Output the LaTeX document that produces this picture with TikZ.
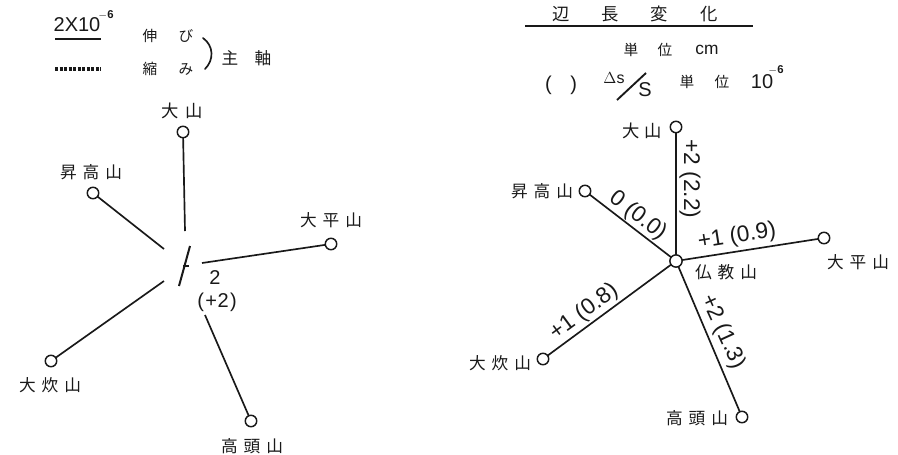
\documentclass[tikz,border=0pt]{standalone}
\usepackage{fontspec}
\setmainfont{Liberation Sans}
\newfontfamily\cjk{Noto Sans CJK JP}
\newcommand\gp{\hspace{4.5pt}}
\tikzset{
  every node/.style={inner sep=0pt,outer sep=0pt,text=black!90},
  station/.style={circle,draw=black!90,fill=white,line width=1.1pt,minimum size=8.6pt},
  edge line/.style={draw=black!90,line width=1.25pt},
  jpl/.style={font=\cjk\fontsize{13}{15}\selectfont},
  jp/.style={font=\cjk\fontsize{12.5}{14}\selectfont},
  jps/.style={font=\cjk\fontsize{11}{13}\selectfont},
  lab/.style={font=\fontsize{15}{17}\selectfont},
  tag/.style={font=\fontsize{17}{20}\selectfont}
}
\begin{document}
\begin{tikzpicture}[x=0.75pt,y=-0.75pt]
\useasboundingbox (0,0) rectangle (898,454);
\fill[white] (0,0) rectangle (898,454);

% --- left legend
\node[font=\fontsize{15}{17}\selectfont] (scale) at (77,25) {2X10};
\node[font=\fontsize{8.5}{10}\selectfont\bfseries] (exp) at (106,15) {$\mathbf{-}$6};
\coordinate (s1) at (55,39); \coordinate (s2) at (101,39);
\draw[edge line,line width=1.4pt] (s1) -- (s2);
\coordinate (d1) at (55,69); \coordinate (d2) at (101,69);
\draw[edge line,line width=2.4pt,dash pattern=on 2.4pt off 1pt] (d1) -- (d2);
\node[jps] (nobi1) at (150,36) {伸};
\node[jps] (nobi2) at (186,36) {び};
\node[jps] (chi1) at (150,69) {縮};
\node[jps] (chi2) at (186,69) {み};
\coordinate (b1) at (203,38); \coordinate (b2) at (205,69);
\draw[edge line,line cap=round] (b1) .. controls (214,46) and (214,60) .. (b2);
\node[jp] (shu) at (230,58) {主};
\node[jp] (jiku) at (263,58) {軸};

% --- left diagram
\node[station] (A1) at (183,132) {};
\node[station] (B1) at (93,193) {};
\node[station] (C1) at (331,244) {};
\node[station] (D1) at (51,361) {};
\node[station] (E1) at (251,421) {};
\coordinate (A1e) at (185,231);
\coordinate (B1e) at (164,249);
\coordinate (C1e) at (202,263);
\coordinate (D1e) at (164,281);
\coordinate (E1e) at (205,315);
\draw[edge line] (A1) -- (A1e);
\draw[edge line] (B1) -- (B1e);
\draw[edge line] (C1) -- (C1e);
\draw[edge line] (D1) -- (D1e);
\draw[edge line] (E1) -- (E1e);
\coordinate (ax1) at (190,246); \coordinate (ax2) at (179,286);
\coordinate (ax3) at (183,266); \coordinate (ax4) at (189,266);
\draw[edge line,line width=1.5pt] (ax1) -- (ax2);
\draw[edge line,line width=1.3pt] (ax3) -- (ax4);
\node[lab] (v1) at (215,278) {2};
\node[lab] (v2) at (217,302) {(\hspace{1pt}+\hspace{0.5pt}2\hspace{1pt})};
\node[jpl] (A1t) at (182,111) {大\hspace{5pt}山};
\node[jp] (B1t) at (91,172) {昇\gp 高\gp 山};
\node[jp] (C1t) at (331,220) {大\gp 平\gp 山};
\node[jp] (D1t) at (50,385) {大\gp 炊\gp 山};
\node[jp] (E1t) at (252,446) {高\gp 頭\gp 山};

% --- right header
\node[jpl] (h1) at (561,14) {辺};
\node[jpl] (h2) at (610,14) {長};
\node[jpl] (h3) at (659,14) {変};
\node[jpl] (h4) at (709,14) {化};
\coordinate (r1) at (525,26); \coordinate (r2) at (753,26);
\draw[edge line,line width=1.5pt] (r1) -- (r2);
\node[jps] (u1) at (631,50) {単};
\node[jps] (u2) at (665,50) {位};
\node[font=\fontsize{13}{15}\selectfont] (cm) at (707,50) {cm};
\node[lab] (par) at (561,85) {(\hspace{14pt})};
\node[font=\fontsize{12}{14}\selectfont] (ds) at (614,78) {$\Delta$s};
\coordinate (sl1) at (617,100); \coordinate (sl2) at (646,73);
\draw[edge line,line width=1.4pt] (sl1) -- (sl2);
\node[font=\fontsize{15}{17}\selectfont] (bigs) at (645,90) {S};
\node[jps] (u3) at (687,82) {単};
\node[jps] (u4) at (722,82) {位};
\node[font=\fontsize{15}{17}\selectfont] (ten) at (762,82) {10};
\node[font=\fontsize{8.5}{10}\selectfont\bfseries] (exp2) at (776,70) {$\mathbf{-}$6};

% --- right diagram
\node[station,minimum size=9.2pt] (O) at (676,261) {};
\node[station] (A2) at (676,127) {};
\node[station] (B2) at (585,191) {};
\node[station] (C2) at (824,238) {};
\node[station] (D2) at (543,359) {};
\node[station] (E2) at (742,417) {};
\draw[edge line] (A2) -- (O);
\draw[edge line] (B2) -- (O);
\draw[edge line] (C2) -- (O);
\draw[edge line] (D2) -- (O);
\draw[edge line] (E2) -- (O);
\node[jpl] (A2t) at (642,131) {大\hspace{4pt}山};
\node[jp] (B2t) at (542,191) {昇\gp 高\gp 山};
\node[jp] (C2t) at (858,262) {大\gp 平\gp 山};
\node[jp] (D2t) at (500,363) {大\gp 炊\gp 山};
\node[jp] (E2t) at (697,418) {高\gp 頭\gp 山};
\node[jp] (Ot) at (726,272) {仏\gp 教\gp 山};
\node[tag,rotate=-90] (Al) at (690,179) {+2 (2.2)};
\node[tag,rotate=-37.5] (Bl) at (638,216) {0 (0.0)};
\node[tag,rotate=9] (Cl) at (737,237) {+1 (0.9)};
\node[tag,rotate=36.4] (Dl) at (584,312) {+1 (0.8)};
\node[tag,rotate=-65.4] (El) at (723,332) {+2 (1.3)};
\end{tikzpicture}
\end{document}
